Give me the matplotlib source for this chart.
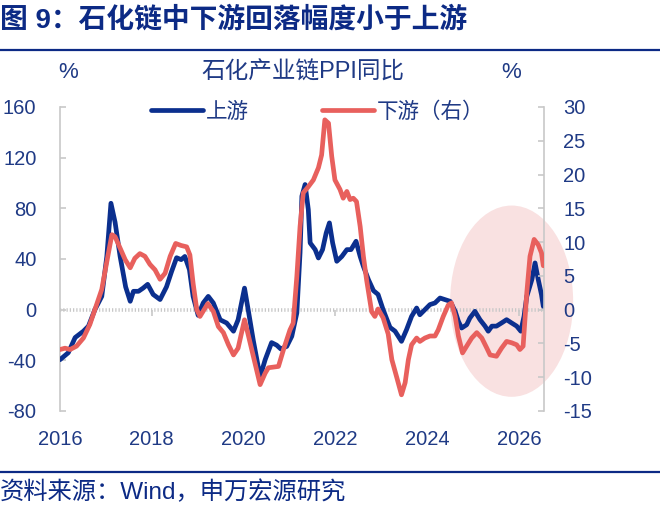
import matplotlib
matplotlib.use('Agg')
import matplotlib.pyplot as plt
from matplotlib.patches import Ellipse
from matplotlib.lines import Line2D

# ---------------- data ----------------
up_t = [2016.00, 2016.18, 2016.33, 2016.51, 2016.62, 2016.76, 2016.91, 2017.02, 2017.11, 2017.20,
        2017.31, 2017.43, 2017.53, 2017.60, 2017.71, 2017.81, 2017.91, 2018.03, 2018.18, 2018.32,
        2018.43, 2018.54, 2018.64, 2018.72, 2018.82, 2018.90, 2019.01, 2019.12, 2019.23, 2019.34,
        2019.49, 2019.63, 2019.78, 2019.88, 2020.02, 2020.10, 2020.21, 2020.36, 2020.47, 2020.61,
        2020.72, 2020.81, 2020.94, 2021.05, 2021.16, 2021.23, 2021.27, 2021.34, 2021.41, 2021.45,
        2021.56, 2021.63, 2021.72, 2021.80, 2021.87, 2021.94, 2022.03, 2022.14, 2022.25, 2022.34,
        2022.45, 2022.54, 2022.61, 2022.72, 2022.83, 2022.93, 2023.04, 2023.19, 2023.30, 2023.44,
        2023.55, 2023.66, 2023.77, 2023.84, 2023.95, 2024.06, 2024.17, 2024.28, 2024.39, 2024.50,
        2024.61, 2024.68, 2024.75, 2024.86, 2024.93, 2025.04, 2025.15, 2025.26, 2025.33, 2025.41,
        2025.51, 2025.62, 2025.73, 2025.84, 2025.95, 2026.04, 2026.11, 2026.17, 2026.28, 2026.35,
        2026.42, 2026.49, 2026.53]
up_v = [-39.5, -34, -22, -17, -13, 0, 10.5, 42, 84, 69,
        42, 18, 6.6, 14.5, 14.5, 17, 20, 12, 8, 18,
        30, 41, 39.5, 42, 31.6, 10.5, -4.5, 5.3, 10.5, 5.3,
        -8, -10.5, -17, -8, 17, 0, -24, -53, -39.5, -26,
        -28, -31, -29, -21, -2.6, 45, 89.6, 98.8, 79, 52.7,
        47.4, 40.8, 47.4, 60.6, 68.5, 52.7, 38.2, 42, 47.4, 47.4,
        54, 42, 34.2, 23.7, 15, 12, 0, -14, -17, -25,
        -15.8, -5.3, 1.3, -4, 0, 4, 5.3, 9.2, 7.9, 6.6,
        -1.3, -9.2, -14.5, -11.9, -6.6, -1.3, -7.9, -13, -17, -13,
        -13, -10.5, -7.9, -10.5, -13, -17, -5.3, 10.5, 23.7, 36.9,
        23.7, 11.9, 2.6]

down_t = [2016.00, 2016.11, 2016.22, 2016.36, 2016.51, 2016.65, 2016.76, 2016.91, 2017.02, 2017.13,
          2017.20, 2017.31, 2017.42, 2017.53, 2017.63, 2017.74, 2017.85, 2017.96, 2018.07, 2018.18,
          2018.29, 2018.40, 2018.52, 2018.64, 2018.76, 2018.83, 2018.90, 2018.98, 2019.05, 2019.22,
          2019.34, 2019.45, 2019.56, 2019.67, 2019.78, 2019.88, 2020.02, 2020.10, 2020.23, 2020.36,
          2020.47, 2020.54, 2020.76, 2020.87, 2021.01, 2021.08, 2021.16, 2021.23, 2021.30, 2021.41,
          2021.52, 2021.63, 2021.70, 2021.77, 2021.85, 2021.92, 2021.99, 2022.10, 2022.17, 2022.25,
          2022.32, 2022.39, 2022.46, 2022.54, 2022.61, 2022.68, 2022.79, 2022.86, 2022.93, 2023.04,
          2023.15, 2023.23, 2023.34, 2023.44, 2023.52, 2023.59, 2023.66, 2023.77, 2023.84, 2023.95,
          2024.06, 2024.17, 2024.24, 2024.35, 2024.46, 2024.53, 2024.61, 2024.68, 2024.77, 2024.86,
          2024.97, 2025.08, 2025.19, 2025.30, 2025.37, 2025.51, 2025.62, 2025.73, 2025.84, 2025.95,
          2026.02, 2026.09, 2026.17, 2026.24, 2026.33, 2026.42, 2026.49, 2026.53]
down_v = [-5.9, -5.7, -5.9, -5.4, -4.2, -2.2, 0, 3, 7.1, 11.1,
          10.8, 9.1, 7.4, 6.2, 7.6, 8.3, 7.9, 6.7, 5.9, 4.5,
          5.4, 7.9, 9.8, 9.5, 9.3, 8.1, 3.9, 0, -1, 0.9,
          -0.25, -2.5, -3.4, -5.2, -6.7, -5.7, -1.5, -3.7, -7.4, -11.1,
          -9.4, -8.6, -8.4, -5.9, -3, -2, 4.9, 12.3, 17.3, 18.2,
          19.2, 21, 22.9, 28.1, 27.6, 22.7, 19.2, 17.8, 16.5, 17.5,
          16.3, 16.5, 16, 12.3, 7.9, 4.4, -0.3, -1, 0.1, -1.2,
          -3.6, -7.4, -10.1, -12.6, -10.8, -7.4, -5.2, -4.2, -4.7, -4.2,
          -3.9, -3.9, -3, -1, 0.7, 1, -1, -3.9, -6.4, -5.4,
          -4.2, -3.4, -4.2, -5.7, -6.7, -6.9, -5.7, -4.7, -4.9, -5.2,
          -5.9, -5.4, 2.5, 7.9, 10.4, 9.6, 8.4, 6.5]

left_ticks = [-80, -40, 0, 40, 80, 120, 160]
right_ticks = [-15, -10, -5, 0, 5, 10, 15, 20, 25, 30]
year_ticks = [2016, 2018, 2020, 2022, 2024, 2026]
zero_marks = [2018, 2022, 2026]

title = '图 9：石化链中下游回落幅度小于上游'
chart_title = '石化产业链PPI同比'
up_name = '上游'
down_name = '下游（右）'
source = '资料来源：Wind，申万宏源研究'

# ---------------- style ----------------
plt.rcParams['font.family'] = ['Liberation Sans', 'Noto Sans CJK SC']
NAVY = '#0c2a85'
TXT = '#1f3a85'
BLUE = '#0b2f8e'
RED = '#e8605d'
GRAY = '#c8c8c8'

fig = plt.figure(figsize=(6.6, 5.09), dpi=100)
ax = fig.add_axes([60 / 660, 1 - 411 / 509, 484 / 660, 304 / 509])
ax2 = ax.twinx()

ax.set_xlim(2016.0, 2026.545)
ax.set_ylim(-80, 160)
ax2.set_ylim(-15, 30)

# highlight ellipse
ell = Ellipse((2025.84, 6.7), 2.68, 151, facecolor='#f9e1e1', edgecolor='none',
              zorder=0, clip_on=False)
ax.add_patch(ell)

# zero line (hatched gray)
ax.axhline(0, color=GRAY, lw=2.6, dashes=(0.35, 0.55), zorder=1)

l1, = ax.plot(up_t, up_v, color=BLUE, lw=3.4, solid_joinstyle='round',
              solid_capstyle='round', zorder=3)
l2, = ax2.plot(down_t, down_v, color=RED, lw=3.4, solid_joinstyle='round',
               solid_capstyle='round', zorder=3)

for a in (ax, ax2):
    for s in ('top', 'bottom'):
        a.spines[s].set_visible(False)
ax.spines['right'].set_visible(False)
ax2.spines['left'].set_visible(False)
ax.spines['left'].set_color(GRAY)
ax.spines['left'].set_linewidth(1.2)
ax2.spines['right'].set_color(GRAY)
ax2.spines['right'].set_linewidth(1.2)

ax.set_yticks(left_ticks)
ax.set_yticklabels([str(v) for v in left_ticks])
ax.tick_params(axis='y', direction='in', length=4, width=1.2, color=GRAY,
               labelcolor=TXT, labelsize=14.5, pad=17)
ax2.set_yticks(right_ticks)
ax2.set_yticklabels([str(v) for v in right_ticks])
ax2.tick_params(axis='y', direction='in', length=4, width=1.2, color=GRAY,
                labelcolor=TXT, labelsize=14.5, pad=14)

ax.set_xticks(year_ticks)
ax.set_xticklabels([str(y) for y in year_ticks])
ax.tick_params(axis='x', length=0, labelcolor=TXT, labelsize=14.5, pad=14)

# small tick marks on the zero line
sec = ax.secondary_xaxis(1 / 3)
sec.set_xticks(zero_marks)
sec.set_xticklabels([])
sec.tick_params(axis='x', direction='out', length=4, width=1.2, color=GRAY)
sec.spines['bottom'].set_visible(False)
sec.spines['top'].set_visible(False)

# legend
leg = fig.legend([l1, l2], [up_name, down_name], ncol=2, loc='center',
                 bbox_to_anchor=(318 / 660, 1 - 112 / 509), frameon=False,
                 fontsize=15.5, handlelength=2.4, handletextpad=0.15, columnspacing=3.4)
for t in leg.get_texts():
    t.set_color(TXT)

# texts
fig.text(0.0, 1 - 20 / 509, title, fontsize=20, fontweight='bold', color=NAVY,
         ha='left', va='center')
fig.add_artist(Line2D([0, 1], [1 - 50 / 509] * 2, transform=fig.transFigure,
                      color=NAVY, lw=1.6))
fig.text(303 / 660, 1 - 73 / 509, chart_title, fontsize=17, color=TXT, ha='center', va='center')
fig.text(68 / 660, 1 - 73 / 509, '%', fontsize=16, color=TXT, ha='center', va='center')
fig.text(511 / 660, 1 - 73 / 509, '%', fontsize=16, color=TXT, ha='center', va='center')
fig.add_artist(Line2D([0, 1], [1 - 472 / 509] * 2, transform=fig.transFigure,
                      color=NAVY, lw=1.6))
fig.text(0.0, 1 - 492 / 509, source, fontsize=17.5, color=NAVY, ha='left', va='center')

fig.savefig('out.png', dpi=100)
